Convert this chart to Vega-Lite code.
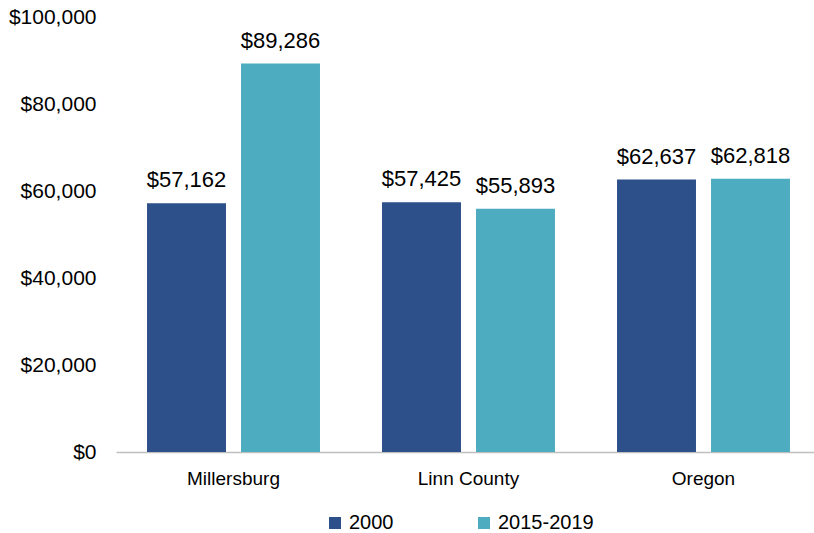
{
  "$schema": "https://vega.github.io/schema/vega-lite/v6.json",
  "autosize": {"type": "none"},
  "width": 705,
  "height": 435,
  "padding": {"left": 116, "top": 17, "right": 0, "bottom": 81},
  "background": "white",
  "config": {
    "view": {"stroke": null},
    "font": "Liberation Sans",
    "axis": {"labelColor": "#000", "labelFont": "Liberation Sans"},
    "legend": {"labelColor": "#000"}
  },
  "data": {
    "values": [
      {"place": "Millersburg", "year": "2000", "income": 57162},
      {"place": "Millersburg", "year": "2015-2019", "income": 89286},
      {"place": "Linn County", "year": "2000", "income": 57425},
      {"place": "Linn County", "year": "2015-2019", "income": 55893},
      {"place": "Oregon", "year": "2000", "income": 62637},
      {"place": "Oregon", "year": "2015-2019", "income": 62818}
    ]
  },
  "encoding": {
    "x": {
      "field": "place",
      "type": "nominal",
      "sort": ["Millersburg", "Linn County", "Oregon"],
      "scale": {"paddingInner": 0.264, "paddingOuter": 0.132},
      "axis": {
        "title": null,
        "labelAngle": 0,
        "labelFontSize": 19,
        "labelPadding": 17,
        "ticks": false,
        "domainColor": "#BFBFBF",
        "domainWidth": 1.5
      }
    },
    "xOffset": {
      "field": "year",
      "type": "nominal",
      "sort": ["2000", "2015-2019"],
      "scale": {"paddingInner": 0.16}
    },
    "y": {
      "field": "income",
      "type": "quantitative",
      "scale": {"domain": [0, 100000]},
      "axis": {
        "title": null,
        "values": [0, 20000, 40000, 60000, 80000, 100000],
        "format": "$,.0f",
        "grid": false,
        "domain": false,
        "ticks": false,
        "labelFontSize": 21,
        "labelPadding": 20
      }
    }
  },
  "layer": [
    {
      "mark": {"type": "bar"},
      "encoding": {
        "color": {
          "field": "year",
          "type": "nominal",
          "scale": {"domain": ["2000", "2015-2019"], "range": ["#2D4F8A", "#4DACBF"]},
          "legend": {
            "title": null,
            "orient": "none",
            "direction": "horizontal",
            "legendX": 209,
            "legendY": 496,
            "symbolType": "square",
            "symbolSize": 144,
            "symbolStrokeWidth": 0,
            "labelFontSize": 20,
            "labelOffset": 4,
            "columnPadding": 80
          }
        }
      }
    },
    {
      "mark": {"type": "text", "baseline": "bottom", "dy": -11, "fontSize": 22, "color": "#000"},
      "encoding": {
        "text": {"field": "income", "type": "quantitative", "format": "$,.0f"}
      }
    }
  ]
}
